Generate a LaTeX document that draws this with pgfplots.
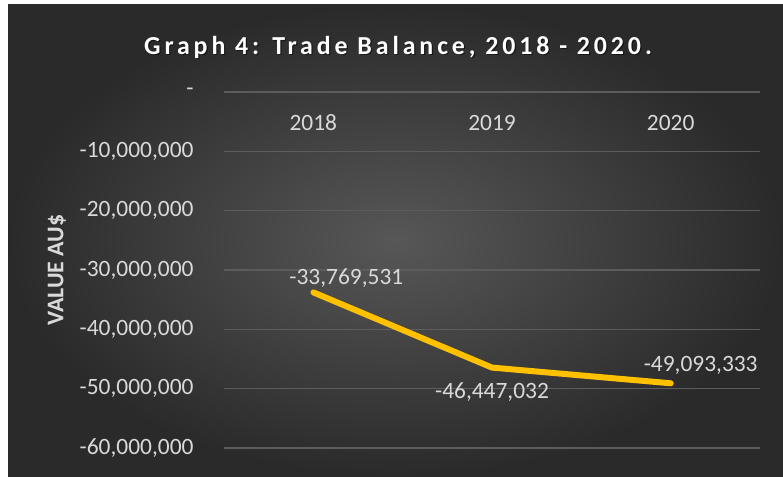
\documentclass[border=0pt]{standalone}
\usepackage{pgfplots}
\pgfplotsset{compat=1.18}
\usepackage{fontspec}
\setmainfont{Carlito}
\newfontfamily\titlefont[LetterSpace=15]{Carlito}

\definecolor{bgin}{HTML}{575757}
\definecolor{bgout}{HTML}{2A2A2A}
\definecolor{gridc}{HTML}{5C5C5C}
\definecolor{txt}{HTML}{D9D9D9}
\definecolor{linec}{HTML}{FFC000}

% trade balance, in millions of AU$
\pgfplotstableread{
x y lab dx dy
0 -33.769531 -33,769,531 33 14
1 -46.447032 -46,447,032 0 -25
2 -49.093333 -49,093,333 30 18
}\balance

\begin{document}
\begin{tikzpicture}
  \fill[white] (0bp,0bp) rectangle (783bp,477bp);
  \shade[inner color=bgin, outer color=bgout] (8bp,0bp) rectangle (783bp,472bp);
  \begin{axis}[
    at={(224bp,29bp)}, anchor=south west,
    scale only axis,
    width=536bp, height=356bp,
    xmin=-0.5, xmax=2.5,
    ymin=-60, ymax=0,
    axis line style={draw=none},
    major tick length=0pt,
    xtick={0,1,2},
    xticklabels={2018,2019,2020},
    xticklabel pos=upper,
    xticklabel style={anchor=center, yshift=-31bp},
    ytick={-60,-50,...,0},
    yticklabels={{-60,000,000},{-50,000,000},{-40,000,000},{-30,000,000},{-20,000,000},{-10,000,000},{-}},
    yticklabel style={anchor=east, xshift=-27bp},
    ymajorgrids,
    grid style={gridc, line width=1.2bp},
    tick label style={text=txt, font=\fontsize{23.5}{28}\selectfont},
    ylabel={VALUE AU\$},
    ylabel style={at={(axis description cs:0,0.5)}, anchor=center, yshift=167bp,
      text=txt, font=\fontsize{24}{28}\selectfont\bfseries},
    clip=false,
  ]
    \addplot[linec, line width=6bp, line join=round, line cap=round,
      nodes near coords, point meta=explicit symbolic,
      visualization depends on={\thisrow{dx}\as\dx},
      visualization depends on={\thisrow{dy}\as\dy},
      every node near coord/.append style={anchor=center, xshift=\dx bp, yshift=\dy bp,
        text=txt, font=\fontsize{23.5}{28}\selectfont}]
      table[x=x, y=y, meta=lab] {\balance};
  \end{axis}
  \node[text=black, opacity=0.5, font=\titlefont\fontsize{26}{30}\selectfont\bfseries] at (399.2bp,428.8bp)
    {Graph 4: Trade Balance, 2018 - 2020.};
  \node[text=white, font=\titlefont\fontsize{26}{30}\selectfont\bfseries] at (398bp,430bp)
    {Graph 4: Trade Balance, 2018 - 2020.};
\end{tikzpicture}
\end{document}
